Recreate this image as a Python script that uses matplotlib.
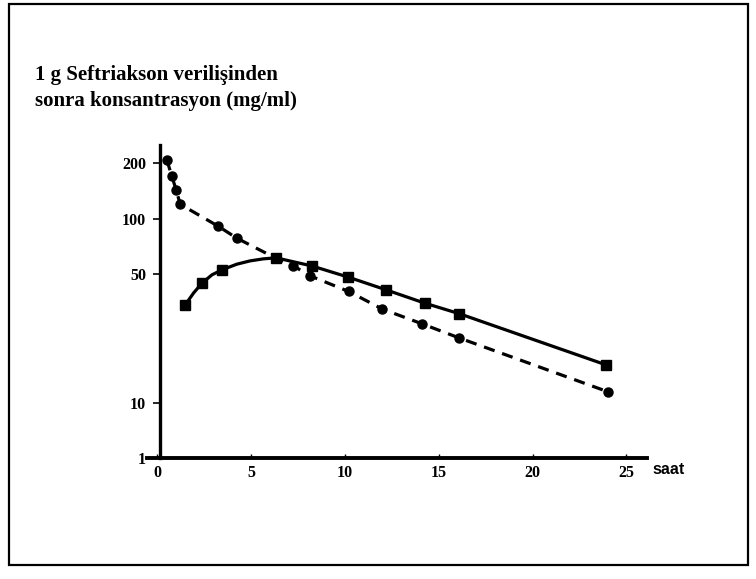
import numpy as np
import matplotlib
matplotlib.use("Agg")
import matplotlib.pyplot as plt
from matplotlib.patches import Rectangle

# saat (hours) and concentration
iv_hours = [0.5, 0.78, 1.0, 1.22, 3.26, 4.24, 6.33, 7.23, 8.14, 10.2, 12.0, 14.1, 16.1, 24.0]
iv_conc = [210, 170, 144, 120, 91, 78.5, 61, 55.7, 49, 40.3, 32.3, 26.9, 22.5, 11.5]

im_hours = [1.49, 2.38, 3.44, 6.33, 8.23, 10.18, 12.2, 14.26, 16.1, 23.9]
im_conc = [34.1, 44.7, 52.8, 61.4, 55.5, 48.2, 41.1, 34.8, 30.5, 16.1]

# path of the hand-drawn IM curve (no markers)
im_curve_hours = [1.49, 1.93, 2.38, 2.91, 3.44, 4.24, 4.95, 5.65, 6.33, 7.23, 8.23,
                  10.18, 12.2, 14.26, 16.1, 23.9]
im_curve_conc = [34.1, 39.5, 44.7, 49.6, 52.8, 56.7, 59.1, 60.6, 61.4, 58.5, 55.5,
                 48.2, 41.1, 34.8, 30.5, 16.1]

y_ticks = [1, 10, 50, 100, 200]
x_ticks = [0, 5, 10, 15, 20, 25]
title = "1 g Seftriakson verilişinden\nsonra konsantrasyon (mg/ml)"

serif = "Liberation Serif"


# log axis above 10, squeezed segment between 1 and 10 (as in the original)
def fwd(v):
    lv = np.log10(np.clip(v, 1e-3, None))
    return np.where(lv >= 1, lv, 1 + (lv - 1) * 0.3)


def inv(u):
    u = np.asarray(u, dtype=float)
    return np.where(u >= 1, 10 ** u, 10 ** (1 + (u - 1) / 0.3))


fig = plt.figure(figsize=(7.56, 5.79), dpi=100)
fig.add_artist(Rectangle((9 / 756, 1 - 565 / 579), 739 / 756, 561 / 579,
                         transform=fig.transFigure, fill=False,
                         edgecolor="black", linewidth=1.6))

fig.text(35 / 756, 1 - 88 / 579, title, fontsize=15, fontweight="bold",
         family=serif, va="center", ha="left", linespacing=1.35)

ax = fig.add_axes([147 / 756, 121 / 579, 500 / 756, 313 / 579])
ax.set_yscale("function", functions=(fwd, inv))

ax.plot(iv_hours, iv_conc, color="black", linewidth=2.3, linestyle=(0, (3.5, 2.5)),
        marker="o", markersize=6.5)
ax.plot(im_curve_hours, im_curve_conc, color="black", linewidth=2.3, linestyle="-")
ax.plot(im_hours, im_conc, color="black", linestyle="none",
        marker="s", markersize=6.5)

ax.set_xlim(-0.55, 26.1)
ax.set_ylim(1, 252)

ax.spines["top"].set_visible(False)
ax.spines["right"].set_visible(False)
ax.spines["left"].set_position(("data", 0.15))
ax.spines["left"].set_linewidth(2.4)
ax.spines["bottom"].set_linewidth(2.8)

ax.set_yticks(y_ticks)
ax.set_yticklabels([str(t) for t in y_ticks])
ax.yaxis.set_minor_locator(plt.NullLocator())
ax.set_xticks(x_ticks)
ax.set_xticklabels([str(t) for t in x_ticks])

ax.tick_params(axis="y", length=5, width=1.2, pad=5, labelsize=11.5)
ax.tick_params(axis="x", length=3, width=1, direction="in", pad=5, labelsize=11.5)
for lab in ax.get_xticklabels() + ax.get_yticklabels():
    lab.set_family(serif)
    lab.set_fontweight("bold")

ax.annotate("saat", xy=(1, 0), xycoords="axes fraction", xytext=(4, -8),
            textcoords="offset points", va="center", ha="left",
            fontsize=11.5, fontweight="bold", family="Liberation Sans")

fig.savefig("out.png", dpi=100)
